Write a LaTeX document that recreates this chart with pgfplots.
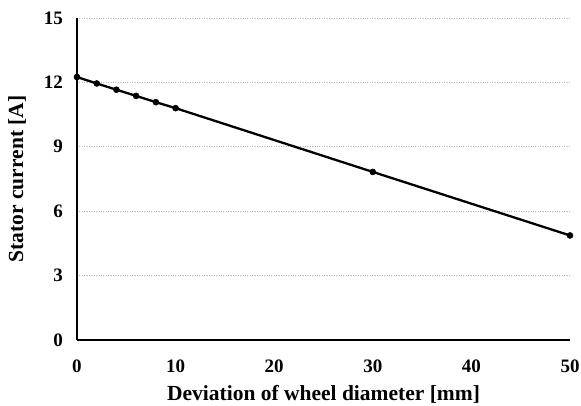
\documentclass[border=0pt]{standalone}
\usepackage{pgfplots}
\pgfplotsset{compat=1.18}
\usepackage{fontspec}
\setmainfont{Liberation Serif}
\begin{document}
\begin{tikzpicture}
\useasboundingbox (-77pt,-65pt) rectangle (504pt,340pt);
\begin{axis}[
  at={(0pt,0pt)}, anchor=south west,
  scale only axis,
  width=493pt, height=322pt,
  xmin=0, xmax=50, ymin=0, ymax=15,
  xtick={0,10,...,50}, ytick={0,3,...,15},
  axis x line*=bottom, axis y line*=left,
  axis line style={black, line width=1.5pt, -},
  major tick length=0pt,
  ymajorgrids,
  grid style={gray!55, dotted, line width=0.9pt},
  ticklabel style={font=\fontsize{19}{21}\selectfont\bfseries, inner sep=0pt},
  /pgf/number format/assume math mode=true,
  xticklabel style={anchor=center, yshift=-26pt},
  yticklabel style={anchor=east, xshift=-14pt},
  xlabel={Deviation of wheel diameter [mm]},
  ylabel={Stator current [A]},
  label style={font=\fontsize{21.5}{23}\selectfont\bfseries},
  xlabel style={at={(axis description cs:0.5,-0.1677)}, anchor=center},
  ylabel style={at={(axis description cs:-0.1217,0.5)}, anchor=center},
  clip=false,
]
\addplot[black, line width=2.3pt, mark=*, mark size=3pt, mark options={fill=black, line width=0.5pt}]
coordinates {(0,12.25) (2,11.95) (4,11.66) (6,11.37) (8,11.08) (10,10.8) (30,7.83) (50,4.87)};
\end{axis}
\end{tikzpicture}
\end{document}
